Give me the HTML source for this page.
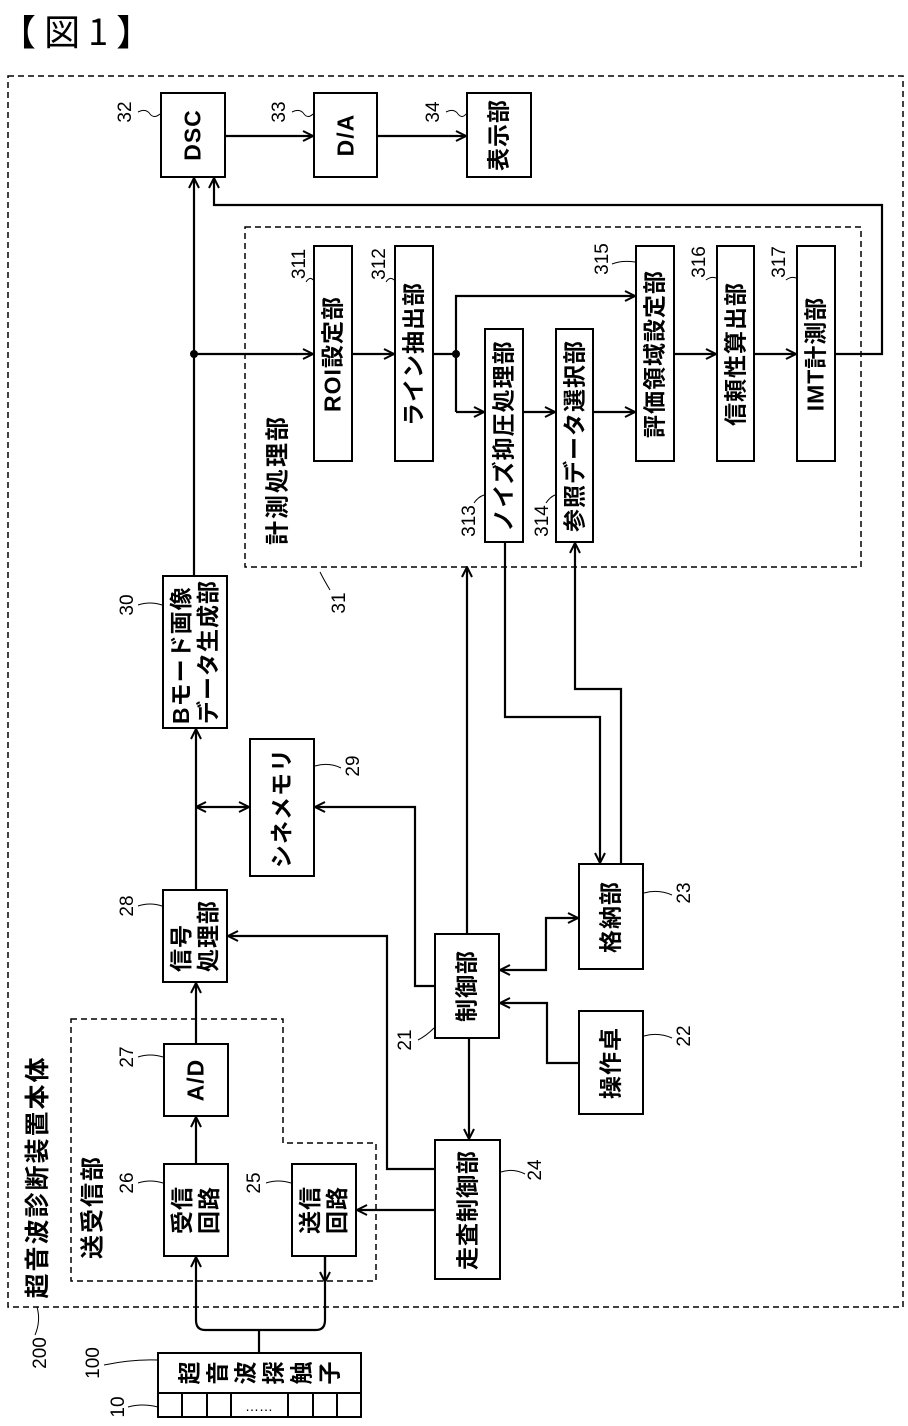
<!DOCTYPE html>
<html><head><meta charset="utf-8"><style>
body{margin:0;background:#fff;}
#c{position:relative;width:908px;height:1426px;overflow:hidden;font-family:"Liberation Sans","Noto Sans CJK JP",sans-serif;color:#000;}
.b{position:absolute;box-sizing:border-box;border:2px solid #000;background:#fff;}
.b span{position:absolute;left:50%;top:50%;transform:translate(-50%,-50%) rotate(-90deg);font-size:23px;line-height:27px;text-align:center;white-space:nowrap;font-weight:bold;letter-spacing:1px;}
.l{position:absolute;transform:translate(-50%,-50%) rotate(-90deg);font-size:19px;white-space:nowrap;}
.t{position:absolute;transform:translate(-50%,-50%) rotate(-90deg);font-size:24px;white-space:nowrap;letter-spacing:2px;font-weight:bold;}
.p{position:absolute;top:1373px;transform:translate(-50%,-50%) rotate(-90deg);font-size:23px;line-height:23px;font-weight:bold;}
svg{position:absolute;left:0;top:0;}
</style></head><body><div id="c">
<div style="position:absolute;left:0px;top:4px;font-size:36px;font-family:'Noto Sans CJK JP',sans-serif;white-space:pre;">【 図 1 】</div>
<svg width="908" height="1426" viewBox="0 0 908 1426">
<defs>
<marker id="a" viewBox="0 0 12 12" refX="11" refY="6" markerWidth="12" markerHeight="12" markerUnits="userSpaceOnUse" orient="auto-start-reverse"><path d="M1,1 L11,6 L1,11" fill="none" stroke="#000" stroke-width="2"/></marker>
</defs>
<g fill="none" stroke="#000" stroke-width="1.5" stroke-dasharray="6,4">
<rect x="8" y="76" width="895" height="1231"/>
<rect x="245" y="227" width="616" height="340"/>
<path d="M71,1019 H283 V1143 H376 V1281 H71 Z"/>
</g>
<g fill="none" stroke="#000" stroke-width="2.2">
<path d="M194,575 V178" marker-end="url(#a)"/>
<path d="M194,354 H313" marker-end="url(#a)"/>
<path d="M353,354 H394" marker-end="url(#a)"/>
<path d="M434,354 H456"/>
<path d="M456,412 V296 H635" marker-end="url(#a)"/>
<path d="M456,412 H484" marker-end="url(#a)"/>
<path d="M524,412 H555" marker-end="url(#a)"/>
<path d="M594,412 H635" marker-end="url(#a)"/>
<path d="M675,354 H716" marker-end="url(#a)"/>
<path d="M755,354 H796" marker-end="url(#a)"/>
<path d="M836,354 H882 V205 H214 V178" marker-end="url(#a)"/>
<path d="M226,136 H313" marker-end="url(#a)"/>
<path d="M378,136 H466" marker-end="url(#a)"/>
<path d="M467,933 V567" marker-end="url(#a)"/>
<path d="M505,543 V717 H600 V863" marker-end="url(#a)"/>
<path d="M621,863 V689 H575 V543" marker-end="url(#a)"/>
<path d="M196,889 V729" marker-end="url(#a)"/>
<path d="M196,807 H249" marker-start="url(#a)" marker-end="url(#a)"/>
<path d="M434,986 H415 V807 H315" marker-end="url(#a)"/>
<path d="M434,1169 H387 V936 H228" marker-end="url(#a)"/>
<path d="M500,970 H546 V918 H578" marker-start="url(#a)" marker-end="url(#a)"/>
<path d="M578,1063 H547 V1003 H500" marker-end="url(#a)"/>
<path d="M469,1039 V1139" marker-end="url(#a)"/>
<path d="M434,1210 H357" marker-end="url(#a)"/>
<path d="M196,1043 V983" marker-end="url(#a)"/>
<path d="M196,1163 V1117" marker-end="url(#a)"/>
<path d="M259,1353 V1330 M259,1330 H205 Q196,1330 196,1320 V1257" marker-end="url(#a)"/>
<path d="M259,1330 H316 Q325,1330 325,1320 V1257"/>
<path d="M325,1257 V1282" marker-end="url(#a)"/>
</g>
<g fill="#000"><circle cx="194" cy="354" r="4"/><circle cx="456" cy="354" r="4"/></g>
<g fill="none" stroke="#000" stroke-width="1">
<path d="M138,112 q8,-4 12,2 q4,5 10,0"/>
<path d="M292,112 q8,-4 12,2 q4,5 9,0"/>
<path d="M446,112 q8,-4 12,2 q4,5 8,0"/>
<path d="M306,282 q4,-6 7,-2"/><path d="M386,282 q4,-6 8,-2"/>
<path d="M612,264 q10,-4 23,-2"/><path d="M706,280 q5,-4 10,-2"/><path d="M786,280 q5,-4 10,-2"/>
<path d="M474,503 q4,-6 10,-8"/><path d="M546,503 q4,-6 9,-8"/>
<path d="M320,572 q4,8 10,18"/>
<path d="M138,605 q12,-4 24,0"/><path d="M315,766 q14,-4 26,2"/>
<path d="M138,906 q12,-4 24,0"/><path d="M644,893 q14,-4 28,2"/>
<path d="M418,1040 q8,-4 16,-12"/><path d="M644,1036 q14,-4 28,2"/>
<path d="M138,1057 q12,-4 25,0"/><path d="M138,1183 q12,-4 25,0"/><path d="M266,1183 q12,-4 25,0"/>
<path d="M501,1172 q12,-4 24,2"/>
<path d="M104,1365 q28,-6 54,-5"/><path d="M128,1407 q14,-4 30,0"/>
<path d="M37,1307 q4,14 -2,28"/>
</g>
<rect x="158" y="1353" width="203" height="64" fill="none" stroke="#000" stroke-width="2"/>
<path d="M158,1393 H361 M182,1393 V1417 M207,1393 V1417 M231,1393 V1417 M288,1393 V1417 M313,1393 V1417 M337,1393 V1417" stroke="#000" stroke-width="2"/>
<text x="259" y="1411" text-anchor="middle" font-size="14" font-family="Liberation Sans">……</text>
</svg>
<div class="b" style="left:160px;top:92px;width:66px;height:86px;"><span>DSC</span></div>
<div class="b" style="left:313px;top:92px;width:65px;height:86px;"><span>D/A</span></div>
<div class="b" style="left:466px;top:92px;width:66px;height:86px;"><span>表示部</span></div>
<div class="b" style="left:313px;top:245px;width:40px;height:217px;"><span>ROI設定部</span></div>
<div class="b" style="left:394px;top:245px;width:40px;height:217px;"><span>ライン抽出部</span></div>
<div class="b" style="left:484px;top:328px;width:40px;height:215px;"><span>ノイズ抑圧処理部</span></div>
<div class="b" style="left:555px;top:328px;width:39px;height:215px;"><span>参照データ選択部</span></div>
<div class="b" style="left:635px;top:245px;width:40px;height:217px;"><span>評価領域設定部</span></div>
<div class="b" style="left:716px;top:245px;width:39px;height:217px;"><span>信頼性算出部</span></div>
<div class="b" style="left:796px;top:245px;width:40px;height:217px;"><span>IMT計測部</span></div>
<div class="b" style="left:162px;top:575px;width:66px;height:154px;"><span style="text-align:left">Bモード画像<br>データ生成部</span></div>
<div class="b" style="left:249px;top:738px;width:66px;height:139px;"><span>シネメモリ</span></div>
<div class="b" style="left:162px;top:889px;width:66px;height:94px;"><span style="text-align:left">信号<br>処理部</span></div>
<div class="b" style="left:434px;top:933px;width:66px;height:106px;"><span>制御部</span></div>
<div class="b" style="left:578px;top:863px;width:66px;height:107px;"><span>格納部</span></div>
<div class="b" style="left:578px;top:1010px;width:66px;height:105px;"><span>操作卓</span></div>
<div class="b" style="left:163px;top:1043px;width:66px;height:74px;"><span>A/D</span></div>
<div class="b" style="left:163px;top:1163px;width:66px;height:94px;"><span>受信<br>回路</span></div>
<div class="b" style="left:291px;top:1163px;width:66px;height:94px;"><span>送信<br>回路</span></div>
<div class="b" style="left:434px;top:1139px;width:67px;height:141px;"><span>走査制御部</span></div>
<div class="p" style="left:190px;">超</div>
<div class="p" style="left:218px;">音</div>
<div class="p" style="left:246px;">波</div>
<div class="p" style="left:274px;">探</div>
<div class="p" style="left:302px;">触</div>
<div class="p" style="left:330px;">子</div>
<div class="t" style="left:275px;top:480px;">計測処理部</div>
<div class="t" style="left:90px;top:1207px;">送受信部</div>
<div class="t" style="left:36px;top:1177px;font-size:25px;">超音波診断装置本体</div>
<div class="l" style="left:126px;top:112px;">32</div>
<div class="l" style="left:280px;top:112px;">33</div>
<div class="l" style="left:434px;top:112px;">34</div>
<div class="l" style="left:300px;top:264px;">311</div>
<div class="l" style="left:380px;top:264px;">312</div>
<div class="l" style="left:603px;top:259px;">315</div>
<div class="l" style="left:700px;top:262px;">316</div>
<div class="l" style="left:780px;top:262px;">317</div>
<div class="l" style="left:470px;top:521px;">313</div>
<div class="l" style="left:543px;top:521px;">314</div>
<div class="l" style="left:340px;top:603px;">31</div>
<div class="l" style="left:128px;top:605px;">30</div>
<div class="l" style="left:354px;top:766px;">29</div>
<div class="l" style="left:128px;top:906px;">28</div>
<div class="l" style="left:685px;top:893px;">23</div>
<div class="l" style="left:406px;top:1040px;">21</div>
<div class="l" style="left:685px;top:1036px;">22</div>
<div class="l" style="left:128px;top:1057px;">27</div>
<div class="l" style="left:128px;top:1183px;">26</div>
<div class="l" style="left:255px;top:1183px;">25</div>
<div class="l" style="left:536px;top:1170px;">24</div>
<div class="l" style="left:94px;top:1363px;">100</div>
<div class="l" style="left:119px;top:1407px;">10</div>
<div class="l" style="left:41px;top:1353px;">200</div>
</div></body></html>
